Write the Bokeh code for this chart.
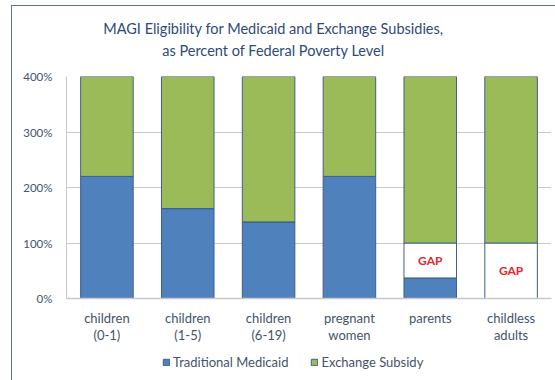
from bokeh.plotting import figure
from bokeh.layouts import column
from bokeh.models import (ColumnDataSource, FactorRange, Legend, LegendItem, Label,
                          FixedTicker, Range1d)
from bokeh.core.properties import value
from bokeh.embed import file_html
from bokeh.resources import INLINE

# ---- data ----
categories = ["children\n(0-1)", "children\n(1-5)", "children\n(6-19)",
              "pregnant\nwomen", "parents", "childless\nadults"]
medicaid = [220, 162, 138, 220, 37, 0]          # Traditional Medicaid (% FPL)
gap = [0, 0, 0, 0, 63, 100]                     # coverage gap (% FPL)
subsidy = [180, 238, 262, 180, 300, 300]        # Exchange Subsidy (% FPL)
gap_labels = ["", "", "", "", "GAP", "GAP"]
y_ticks = [0, 100, 200, 300, 400]
title_lines = ["MAGI Eligibility for Medicaid and Exchange Subsidies,",
               "as Percent of Federal Poverty Level"]
series_names = ["Traditional Medicaid", "Gap", "Exchange Subsidy"]
colors = ["#4F81BD", "white", "#9BBB59"]

FONT = "Lato"
TXT = "#44546A"
EDGE = "#3E5F8A"
W = 543
NOB = dict(min_border=0, min_border_left=0, min_border_right=0,
           min_border_top=0, min_border_bottom=0)

# ---- title strip (its frame is aligned with the chart frame by the column) ----
pt = figure(width=W, height=62, x_range=Range1d(66, 551), y_range=Range1d(0, 62),
            x_axis_location=None, y_axis_location=None, output_backend="svg",
            toolbar_location=None, **NOB)
pt.outline_line_color = None
pt.grid.visible = False
for t, yv in zip(title_lines, [40, 18]):
    pt.add_layout(Label(x=273, y=yv, text=t, text_align="center", text_baseline="middle",
                        text_font=FONT, text_font_size="14.5px", text_color="#2F4A76"))

# ---- main chart ----
src = ColumnDataSource(dict(cat=categories, medicaid=medicaid, gap=gap, subsidy=subsidy,
                            gap_y=[m + g / 2 for m, g in zip(medicaid, gap)],
                            gap_lbl=gap_labels))

p = figure(x_range=FactorRange(*categories, range_padding=0), y_range=Range1d(0, 400),
           width=W, height=278, output_backend="svg", toolbar_location=None,
           min_border_left=54, min_border_right=4, min_border_top=8, min_border_bottom=47)
p.outline_line_color = None

rs = p.vbar_stack(["medicaid", "gap", "subsidy"], x="cat", width=0.65, source=src,
                  fill_color=colors, line_color=EDGE, line_width=1)

p.text(x="cat", y="gap_y", text="gap_lbl", source=src, text_align="center",
       text_baseline="middle", text_color="#E8242B", text_font=value(FONT),
       text_font_size="12px", text_font_style="bold")

p.yaxis.ticker = FixedTicker(ticks=y_ticks)
p.yaxis.major_label_overrides = {t: f"{t}%" for t in y_ticks}
p.yaxis.major_tick_line_color = None
p.yaxis.minor_tick_line_color = None
p.yaxis.axis_line_color = "#C8C8D0"
p.yaxis.major_label_standoff = 8
p.yaxis.major_label_text_font = FONT
p.yaxis.major_label_text_font_size = "11.5px"
p.yaxis.major_label_text_color = TXT

p.xaxis.major_tick_line_color = None
p.xaxis.axis_line_color = "#C8C8D0"
p.xaxis.axis_line_width = 1.5
p.xaxis.major_label_standoff = 5
p.xaxis.major_label_text_font = FONT
p.xaxis.major_label_text_font_size = "13px"
p.xaxis.major_label_text_color = TXT
p.xaxis.major_label_text_line_height = 1.1

p.xgrid.grid_line_color = None
p.ygrid.grid_line_color = "#C8C8D0"
p.ygrid.grid_line_width = 1

# ---- legend strip (same series, drawn outside its visible y-range; only the legend shows) ----
pl = figure(width=W, height=34, x_range=FactorRange(*categories, range_padding=0),
            y_range=Range1d(1000, 1034),
            x_axis_location=None, y_axis_location=None, output_backend="svg",
            toolbar_location=None, **NOB)
pl.outline_line_color = None
pl.grid.visible = False
lrs = pl.vbar_stack(["medicaid", "gap", "subsidy"], x="cat", width=0.65, source=src,
                    fill_color=colors, line_color=EDGE, line_width=1)
leg = Legend(items=[LegendItem(label=series_names[0], renderers=[lrs[0]]),
                    LegendItem(label=series_names[2], renderers=[lrs[2]])],
             orientation="horizontal", location=(96, 10), padding=0, margin=0,
             spacing=22, glyph_width=8, glyph_height=8, label_standoff=3,
             label_height=14, label_text_font=FONT, label_text_font_size="13px",
             label_text_color=TXT, border_line_color=None, background_fill_alpha=0)
pl.add_layout(leg, "center")

layout = column(pt, p, pl, spacing=0,
                styles={"margin-left": "11px", "margin-top": "5px",
                        "border-left": "1px solid #5B77A0", "border-top": "1px solid #5B77A0",
                        "background": "white"})

open("out.html", "w").write(file_html(layout, INLINE))
